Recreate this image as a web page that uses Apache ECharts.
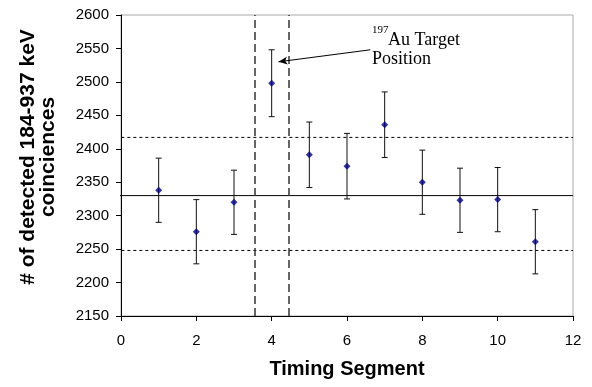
<!DOCTYPE html>
<html>
<head>
<meta charset="utf-8">
<script src="https://cdn.jsdelivr.net/npm/echarts@6/dist/echarts.min.js"></script>
<style>html,body{margin:0;padding:0;background:#fff;}#c{width:592px;height:387px;}</style>
</head>
<body>
<div id="c"></div>
<script>
const segments = [1, 2, 3, 4, 5, 6, 7, 8, 9, 10, 11];
const counts = [2338, 2276, 2320, 2498, 2391, 2374, 2436, 2350, 2323, 2324, 2261];
const errors = [48, 48, 48, 50, 49, 49, 49, 48, 48, 48, 48];
const meanLevel = 2330;
const upperLevel = 2417;
const lowerLevel = 2248;
const targetBounds = [3.55, 4.45];
const xTicks = { min: 0, max: 12, interval: 2 };
const yTicks = { min: 2150, max: 2600, interval: 50 };
const lineSpan = [-0.15, 12];
const arrowFrom = [6.62, 2548];
const arrowTo = [4.18, 2530];

const sans = '"Liberation Sans", Arial, sans-serif';
const serif = '"Liberation Serif", "Times New Roman", serif';

const points = segments.map((s, i) => [s, counts[i]]);
const bars = segments.map((s, i) => [s, counts[i] - errors[i], counts[i] + errors[i]]);

function hline(v, type) {
  return {
    type: 'line', clip: false, silent: true, symbol: 'none', z: 2,
    data: [[lineSpan[0], v], [lineSpan[1], v]],
    lineStyle: { color: '#000', width: 1, type: type }
  };
}

const chart = echarts.init(document.getElementById('c'), null, { renderer: 'canvas' });
chart.setOption({
  animation: false,
  backgroundColor: '#fff',
  grid: { left: 121, right: 19, top: 15, bottom: 71, show: true, borderColor: '#a8a8a8', borderWidth: 1, backgroundColor: 'transparent' },
  xAxis: {
    type: 'value', min: xTicks.min, max: xTicks.max, interval: xTicks.interval,
    name: 'Timing Segment', nameLocation: 'middle', nameGap: 43,
    nameTextStyle: { fontFamily: sans, fontWeight: 'bold', fontSize: 20, color: '#000' },
    axisLine: { show: true, onZero: false, lineStyle: { color: '#000', width: 1 } },
    axisTick: { show: true, inside: false, length: 5, lineStyle: { color: '#000' } },
    axisLabel: { fontFamily: sans, fontSize: 15, color: '#000', margin: 17 },
    splitLine: { show: false }
  },
  yAxis: {
    type: 'value', min: yTicks.min, max: yTicks.max, interval: yTicks.interval,
    axisLine: { show: true, onZero: false, lineStyle: { color: '#000', width: 1 } },
    axisTick: { show: true, inside: false, length: 5, lineStyle: { color: '#000' } },
    axisLabel: { fontFamily: sans, fontSize: 15, color: '#000', margin: 12, formatter: v => String(v) },
    splitLine: { show: false }
  },
  graphic: [
    {
      type: 'text', x: 38, y: 157, rotation: Math.PI / 2,
      style: {
        text: '# of detected 184-937 keV\ncoinciences',
        fontFamily: sans, fontWeight: 'bold', fontSize: 21, lineHeight: 20,
        fill: '#000', align: 'center', verticalAlign: 'middle'
      }
    },
    { type: 'text', x: 372, y: 25, style: { text: '197', fontFamily: serif, fontSize: 11, fill: '#000' } },
    { type: 'text', x: 388, y: 31, style: { text: 'Au Target', fontFamily: serif, fontSize: 18, fill: '#000' } },
    { type: 'text', x: 372, y: 50, style: { text: 'Position', fontFamily: serif, fontSize: 18, fill: '#000' } }
  ],
  series: [
    hline(meanLevel, 'solid'),
    hline(upperLevel, [3, 3]),
    hline(lowerLevel, [3, 3]),
    {
      type: 'line', data: [], silent: true,
      markLine: {
        silent: true, symbol: 'none', label: { show: false },
        lineStyle: { color: '#333', width: 1.5, type: [8, 4] },
        data: targetBounds.map(v => ({ xAxis: v }))
      }
    },
    {
      type: 'line', data: [], silent: true,
      markLine: {
        silent: true, symbol: ['none', 'arrow'], symbolSize: [6, 9], label: { show: false },
        lineStyle: { color: '#000', width: 1, type: 'solid' },
        data: [[{ coord: arrowFrom }, { coord: arrowTo }]]
      }
    },
    {
      type: 'custom', z: 3, silent: true,
      data: bars,
      renderItem: function (params, api) {
        const x = api.value(0);
        const lo = api.coord([x, api.value(1)]);
        const hi = api.coord([x, api.value(2)]);
        const w = 3;
        const st = { stroke: '#111', lineWidth: 1 };
        return {
          type: 'group',
          children: [
            { type: 'line', shape: { x1: lo[0], y1: lo[1], x2: hi[0], y2: hi[1] }, style: st },
            { type: 'line', shape: { x1: lo[0] - w, y1: lo[1], x2: lo[0] + w, y2: lo[1] }, style: st },
            { type: 'line', shape: { x1: hi[0] - w, y1: hi[1], x2: hi[0] + w, y2: hi[1] }, style: st }
          ]
        };
      }
    },
    {
      type: 'scatter', z: 4, data: points,
      symbol: 'diamond', symbolSize: 7,
      itemStyle: { color: '#000080' }
    }
  ]
});
</script>
</body>
</html>
